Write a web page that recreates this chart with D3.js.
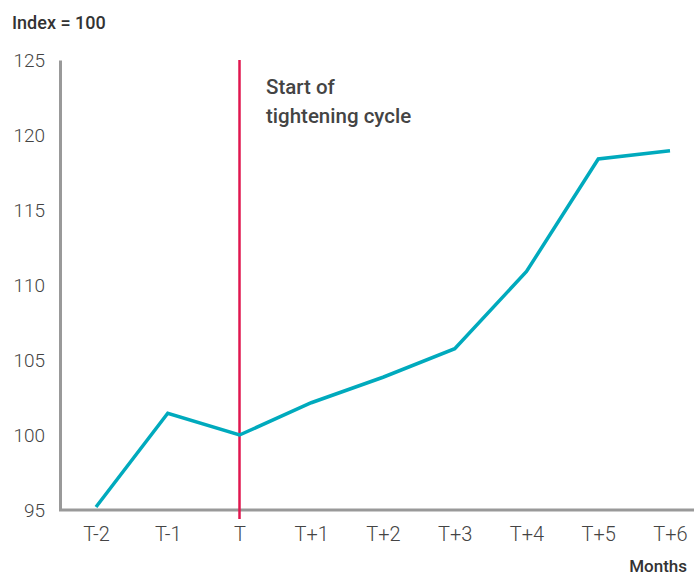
<!DOCTYPE html>
<html>
<head>
<meta charset="utf-8">
<script src="https://cdn.jsdelivr.net/npm/d3@7"></script>
<style>
  html, body { margin: 0; padding: 0; background: #fff; }
  svg { display: block; }
  text { font-family: "Roboto", "Liberation Sans", sans-serif; }
</style>
</head>
<body>
<svg id="chart" width="694" height="576"></svg>
<script>
// Index level around the start of a tightening cycle
const months = ["T-2", "T-1", "T", "T+1", "T+2", "T+3", "T+4", "T+5", "T+6"];
const indexValues = [95.2, 101.45, 100, 102.15, 103.85, 105.75, 110.9, 118.4, 118.95];
const yTicks = [95, 100, 105, 110, 115, 120, 125];
const eventMonth = "T";
const eventLabel = ["Start of", "tightening cycle"];

const svg = d3.select("#chart");

const x = d3.scalePoint().domain(months).range([96, 670]);
const y = d3.scaleLinear().domain([95, 125]).range([510, 60]);

// y axis
const yAxis = svg.append("g")
  .attr("transform", "translate(60,0)")
  .call(d3.axisLeft(y).tickValues(yTicks).tickSize(0).tickPadding(15));
yAxis.select(".domain").attr("stroke", "#999").attr("stroke-width", 3);
yAxis.selectAll("text").attr("font-size", 19).attr("font-weight", 300).attr("fill", "#444")
  .attr("font-family", "Roboto, sans-serif");

// x axis
const xAxis = svg.append("g")
  .attr("transform", "translate(0,510)")
  .call(d3.axisBottom(x).tickSize(0).tickPadding(17));
xAxis.select(".domain").attr("d", "M59,0H694").attr("stroke", "#999").attr("stroke-width", 3);
xAxis.selectAll("text").attr("font-size", 20).attr("font-weight", 300).attr("fill", "#444")
  .attr("font-family", "Roboto, sans-serif");

// event marker
svg.append("line")
  .attr("x1", x(eventMonth)).attr("x2", x(eventMonth))
  .attr("y1", 60).attr("y2", 519)
  .attr("stroke", "#E0174F").attr("stroke-width", 2.5);

svg.append("text")
  .attr("x", 266).attr("y", 94)
  .attr("font-size", 20.5).attr("font-weight", 500).attr("fill", "#444")
  .selectAll("tspan").data(eventLabel).join("tspan")
  .attr("x", 266).attr("dy", (d, i) => i === 0 ? 0 : 29)
  .text(d => d);

// series line
const line = d3.line()
  .x((d, i) => x(months[i]))
  .y(d => y(d));

svg.append("path")
  .datum(indexValues)
  .attr("d", line)
  .attr("fill", "none")
  .attr("stroke", "#00AABD")
  .attr("stroke-width", 3.5)
  .attr("stroke-linejoin", "miter");

// titles
svg.append("text")
  .attr("x", 12).attr("y", 29)
  .attr("font-size", 18).attr("font-weight", 500).attr("fill", "#333")
  .text("Index = 100");

svg.append("text")
  .attr("x", 687).attr("y", 572)
  .attr("text-anchor", "end")
  .attr("font-size", 17).attr("font-weight", 500).attr("fill", "#333")
  .text("Months");
</script>
</body>
</html>
